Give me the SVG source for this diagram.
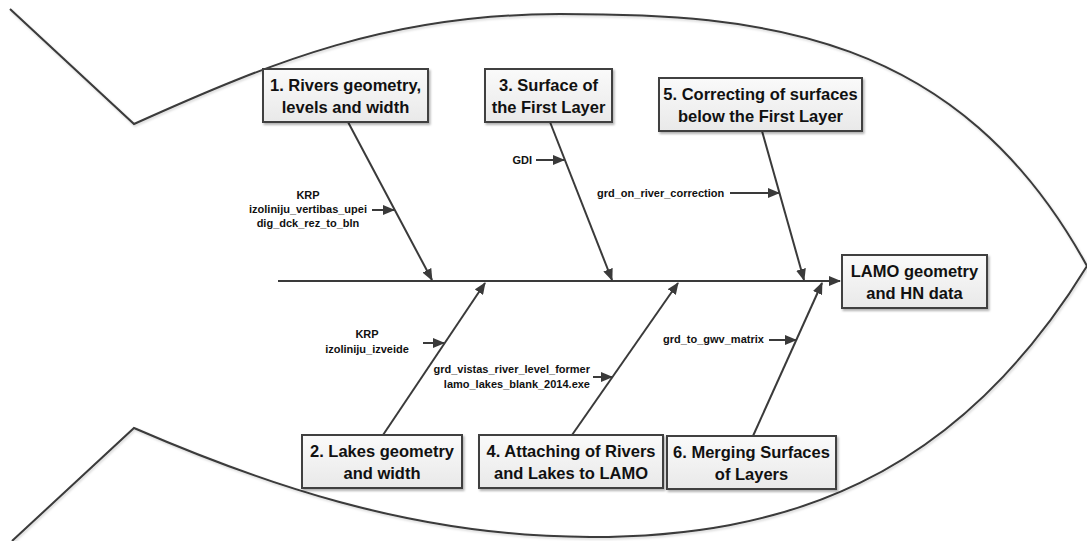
<svg xmlns="http://www.w3.org/2000/svg" width="1087" height="541" viewBox="0 0 1087 541">
  <defs>
    <style>
      .outline { fill: none; stroke: #3a3a3a; stroke-width: 2; }
      .conn { fill: none; stroke: #3a3a3a; stroke-width: 2; }
      .arrow { marker-end: url(#ah); }
      .box { fill: url(#boxfill); stroke: #404040; stroke-width: 2; filter: url(#shadow); }
      .bt { font-family: "Liberation Sans", Arial, sans-serif; font-weight: bold; font-size: 16.5px; fill: #111; text-anchor: middle; }
      .lt { font-family: "Liberation Sans", Arial, sans-serif; font-weight: bold; font-size: 11px; fill: #111; }
      .mid { text-anchor: middle; }
      .end { text-anchor: end; }
    </style>
    <linearGradient id="boxfill" x1="0" y1="0" x2="0" y2="1">
      <stop offset="0" stop-color="#fafafa"/>
      <stop offset="1" stop-color="#e9e9e9"/>
    </linearGradient>
    <filter id="shadow" x="-10%" y="-10%" width="125%" height="135%">
      <feDropShadow dx="1.5" dy="2" stdDeviation="1.2" flood-color="#000" flood-opacity="0.3"/>
    </filter>
    <filter id="lshadow" x="-5%" y="-5%" width="110%" height="110%">
      <feDropShadow dx="1" dy="1.5" stdDeviation="1" flood-color="#000" flood-opacity="0.18"/>
    </filter>
    <marker id="ah" markerUnits="userSpaceOnUse" markerWidth="12" markerHeight="10" viewBox="0 0 12 10" refX="11" refY="5" orient="auto">
      <path d="M0,0 L12,5 L0,10 z" fill="#3a3a3a"/>
    </marker>
  </defs>

  <rect x="0" y="0" width="1087" height="541" fill="#ffffff"/>

  <g id="fish-outline" filter="url(#lshadow)">
    <path class="outline" d="M10,9 L134,124 C274,61 390,14 560,14 C760,14 958,31 1087,266"/>
    <path class="outline" d="M12,541 L134,428 C254,480 410,537 590,537 C780,537 954,483 1087,266"/>
  </g>

  <g id="connectors">
    <line class="conn arrow" x1="278" y1="281" x2="840" y2="281"/>
    <line class="conn arrow" x1="348" y1="122" x2="432" y2="280"/>
    <line class="conn arrow" x1="550" y1="122" x2="612" y2="280"/>
    <line class="conn arrow" x1="762" y1="131" x2="804" y2="280"/>
    <line class="conn arrow" x1="383" y1="435" x2="485" y2="283"/>
    <line class="conn arrow" x1="572" y1="435" x2="678" y2="283"/>
    <line class="conn arrow" x1="753" y1="436" x2="822" y2="283"/>
    <line class="conn arrow" x1="372" y1="210" x2="394" y2="210"/>
    <line class="conn arrow" x1="536" y1="160" x2="564" y2="160"/>
    <line class="conn arrow" x1="730" y1="193" x2="779" y2="193"/>
    <line class="conn arrow" x1="423" y1="343" x2="444" y2="343"/>
    <line class="conn arrow" x1="593" y1="377" x2="612" y2="377"/>
    <line class="conn arrow" x1="769" y1="340" x2="796" y2="340"/>
  </g>

  <g id="node-lamo">
    <rect class="box" x="842" y="255" width="145" height="53"/>
    <text class="bt" x="914.5" y="276.5">LAMO geometry</text>
    <text class="bt" x="914.5" y="298.5">and HN data</text>
  </g>

  <g id="node-1">
    <rect class="box" x="263" y="69" width="165" height="53"/>
    <text class="bt" x="345.5" y="90.5">1. Rivers geometry,</text>
    <text class="bt" x="345.5" y="112.5">levels and width</text>
  </g>

  <g id="node-3">
    <rect class="box" x="485" y="69" width="127" height="53"/>
    <text class="bt" x="548.5" y="90.5">3. Surface of</text>
    <text class="bt" x="548.5" y="112.5">the First Layer</text>
  </g>

  <g id="node-5">
    <rect class="box" x="659" y="78" width="203" height="53"/>
    <text class="bt" x="760.5" y="99.5">5. Correcting of surfaces</text>
    <text class="bt" x="760.5" y="121.5">below the First Layer</text>
  </g>

  <g id="node-2">
    <rect class="box" x="302" y="435" width="160" height="53"/>
    <text class="bt" x="382" y="456.5">2. Lakes geometry</text>
    <text class="bt" x="382" y="478.5">and width</text>
  </g>

  <g id="node-4">
    <rect class="box" x="479" y="435" width="184" height="53"/>
    <text class="bt" x="571" y="456.5">4. Attaching of Rivers</text>
    <text class="bt" x="571" y="478.5">and Lakes to LAMO</text>
  </g>

  <g id="node-6">
    <rect class="box" x="667" y="436" width="169" height="53"/>
    <text class="bt" x="751.5" y="457.5">6. Merging Surfaces</text>
    <text class="bt" x="751.5" y="479.5">of Layers</text>
  </g>

  <g id="label-1">
    <text class="lt mid" x="308" y="199">KRP</text>
    <text class="lt mid" x="308" y="213">izoliniju_vertibas_upei</text>
    <text class="lt mid" x="308" y="227">dig_dck_rez_to_bln</text>
  </g>

  <g id="label-3">
    <text class="lt end" x="532" y="164">GDI</text>
  </g>

  <g id="label-5">
    <text class="lt" x="597" y="196.5">grd_on_river_correction</text>
  </g>

  <g id="label-2">
    <text class="lt mid" x="367" y="338">KRP</text>
    <text class="lt mid" x="367" y="353">izoliniju_izveide</text>
  </g>

  <g id="label-4">
    <text class="lt end" x="590" y="373">grd_vistas_river_level_former</text>
    <text class="lt end" x="590" y="388">lamo_lakes_blank_2014.exe</text>
  </g>

  <g id="label-6">
    <text class="lt" x="663" y="343">grd_to_gwv_matrix</text>
  </g>
</svg>
